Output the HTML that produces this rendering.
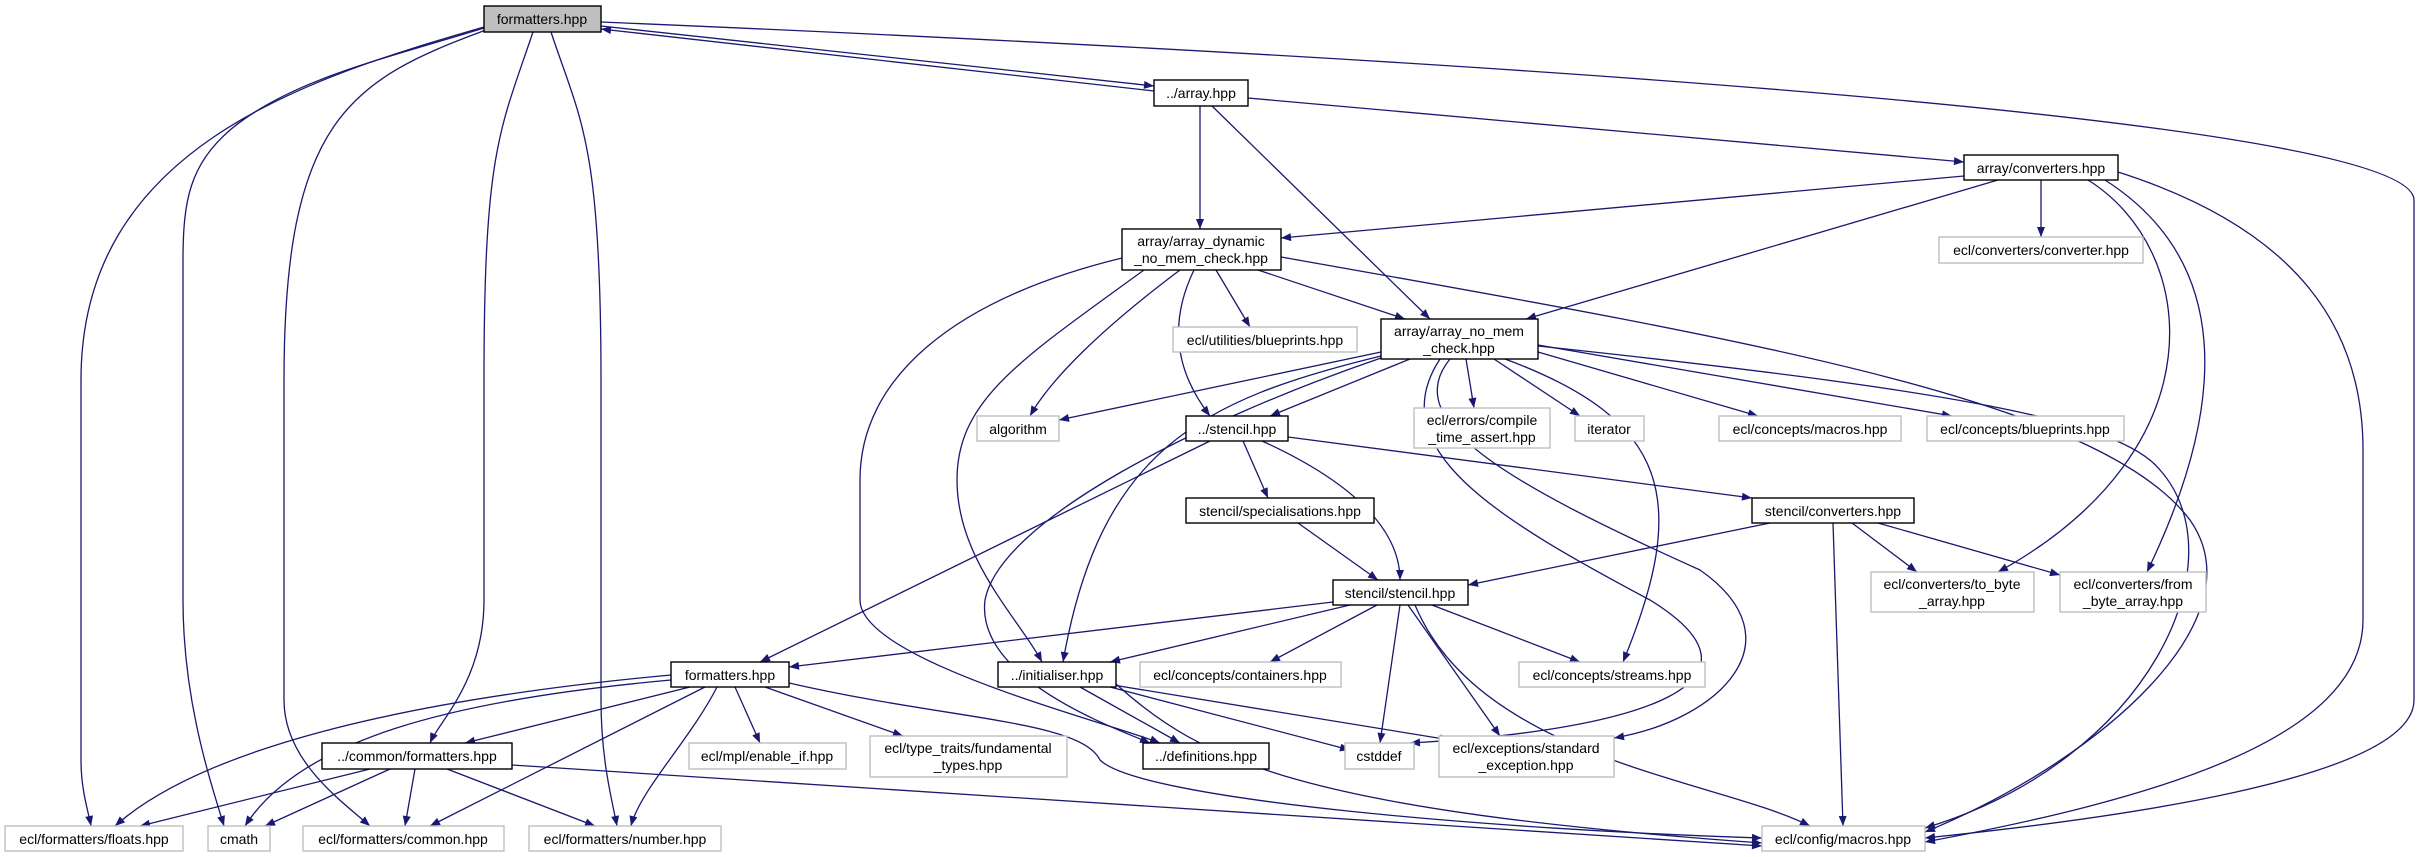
<!DOCTYPE html>
<html><head><meta charset="utf-8"><style>
html,body{margin:0;padding:0;background:#fff;}
svg{display:block;}
text{font-family:"Liberation Sans","DejaVu Sans",sans-serif;font-size:14px;fill:#000;text-anchor:middle;}
.e{fill:none;stroke:#191970;stroke-width:1.3;marker-end:url(#ah);}
.nb{fill:#fff;stroke:#000;stroke-width:1.4;}
.ng{fill:#fff;stroke:#bfbfbf;stroke-width:1.4;}
</style></head><body>
<svg width="2420" height="857" viewBox="0 0 2420 857" xmlns="http://www.w3.org/2000/svg">
<defs>
<marker id="ah" viewBox="0 0 10 8" refX="10" refY="4" markerWidth="11" markerHeight="8" markerUnits="userSpaceOnUse" orient="auto">
<path d="M0,0 L10,4 L0,8 z" fill="#191970"/></marker>
</defs>
<!-- edges -->
<g>
<path class="e" d="M484,27 C300,80 81,150 81,380 L81,760 C81,790 88,810 91,826"/>
<path class="e" d="M484,28 C380,60 290,80 230,130 C190,165 183,200 183,260 L183,600 C183,700 210,780 224,826"/>
<path class="e" d="M486,30 C350,80 284,120 284,380 L284,700 C284,760 340,800 370,826"/>
<path class="e" d="M551,32 C580,120 601,140 601,380 L601,700 C601,760 612,800 617,826"/>
<path class="e" d="M533,32 C500,130 484,150 484,380 L484,600 C484,680 440,720 430,743"/>
<path class="e" d="M601,22 C1500,60 2414,120 2414,200 L2414,700 C2414,780 2100,820 1925,838"/>
<path class="e" d="M601,26 L1154,86"/>
<path class="e" d="M1154,91 L601,29"/>
<path class="e" d="M1200,106 L1200,229"/>
<path class="e" d="M1212,106 L1430,319"/>
<path class="e" d="M1248,98 L1964,162"/>
<path class="e" d="M1964,176 L1281,238"/>
<path class="e" d="M2041,180 L2041,237"/>
<path class="e" d="M1998,180 L1526,319"/>
<path class="e" d="M2088,180 C2200,250 2220,450 1998,572"/>
<path class="e" d="M2105,180 C2230,260 2230,400 2147,572"/>
<path class="e" d="M2118,172 C2300,230 2363,330 2363,450 L2363,620 C2363,740 2150,800 1925,842"/>
<path class="e" d="M1216,270 L1250,327"/>
<path class="e" d="M1258,270 L1405,319"/>
<path class="e" d="M1180,270 C1100,330 1050,380 1030,416"/>
<path class="e" d="M1194,270 C1160,340 1190,390 1210,416"/>
<path class="e" d="M1144,270 C1020,360 957,400 957,480 C957,560 1020,620 1042,662"/>
<path class="e" d="M1122,258 C950,300 860,380 860,480 L860,600 C860,660 1100,720 1160,743"/>
<path class="e" d="M1281,257 C1750,340 2100,400 2190,520 C2260,620 2100,760 1925,832"/>
<path class="e" d="M1381,352 L1059,420"/>
<path class="e" d="M1410,359 L1270,416"/>
<path class="e" d="M1466,359 L1474,408"/>
<path class="e" d="M1494,359 L1580,416"/>
<path class="e" d="M1538,352 L1758,416"/>
<path class="e" d="M1538,345 L1952,416"/>
<path class="e" d="M1381,356 C1200,400 1100,450 1063,662"/>
<path class="e" d="M1381,358 C1200,420 1000,520 985,600 C975,680 1120,730 1150,743"/>
<path class="e" d="M1505,359 C1670,420 1690,500 1623,662"/>
<path class="e" d="M1440,359 C1380,450 1500,520 1650,600 C1780,680 1650,730 1410,743"/>
<path class="e" d="M1450,359 C1400,420 1500,480 1700,570 C1800,640 1720,720 1614,738"/>
<path class="e" d="M1538,346 C1950,390 2120,420 2160,470 C2240,560 2150,760 1925,828"/>
<path class="e" d="M1210,441 L760,662"/>
<path class="e" d="M1243,441 L1268,498"/>
<path class="e" d="M1262,441 C1370,490 1400,540 1400,580"/>
<path class="e" d="M1288,437 L1752,498"/>
<path class="e" d="M1298,523 L1378,580"/>
<path class="e" d="M1770,523 L1468,585"/>
<path class="e" d="M1852,523 L1917,572"/>
<path class="e" d="M1878,523 L2060,575"/>
<path class="e" d="M1833,523 L1843,826"/>
<path class="e" d="M1333,602 L789,667"/>
<path class="e" d="M1350,605 L1110,662"/>
<path class="e" d="M1377,605 L1270,662"/>
<path class="e" d="M1432,605 L1580,662"/>
<path class="e" d="M1400,605 L1380,743"/>
<path class="e" d="M1408,605 L1500,736"/>
<path class="e" d="M1415,605 C1480,760 1720,780 1810,826"/>
<path class="e" d="M690,687 L465,743"/>
<path class="e" d="M671,675 C400,700 200,750 115,826"/>
<path class="e" d="M671,680 C450,700 300,740 245,826"/>
<path class="e" d="M705,687 L430,826"/>
<path class="e" d="M717,687 C690,740 640,790 631,826"/>
<path class="e" d="M735,687 L760,743"/>
<path class="e" d="M765,687 L903,736"/>
<path class="e" d="M789,683 C950,720 1080,720 1100,760 C1140,800 1500,830 1762,838"/>
<path class="e" d="M370,769 L140,826"/>
<path class="e" d="M390,769 L265,826"/>
<path class="e" d="M415,769 L405,826"/>
<path class="e" d="M447,769 L595,826"/>
<path class="e" d="M512,765 L1762,846"/>
<path class="e" d="M1080,687 L1180,743"/>
<path class="e" d="M1110,687 L1350,750"/>
<path class="e" d="M1113,685 L1450,740"/>
<path class="e" d="M1116,684 C1200,760 1300,810 1762,843"/>
</g>
<!-- nodes -->
<g>
<rect x="484" y="6" width="117" height="26" fill="#bfbfbf" stroke="#000" stroke-width="1.4"/><text x="542" y="24">formatters.hpp</text>
<rect class="nb" x="1154" y="80" width="94" height="26"/><text x="1201" y="98">../array.hpp</text>
<rect class="nb" x="1964" y="155" width="154" height="25"/><text x="2041" y="173">array/converters.hpp</text>
<rect class="nb" x="1122" y="229" width="159" height="41"/><text x="1201" y="246">array/array_dynamic</text><text x="1201" y="263">_no_mem_check.hpp</text>
<rect class="ng" x="1939" y="237" width="204" height="26"/><text x="2041" y="255">ecl/converters/converter.hpp</text>
<rect class="ng" x="1173" y="327" width="184" height="25"/><text x="1265" y="345">ecl/utilities/blueprints.hpp</text>
<rect class="nb" x="1381" y="319" width="157" height="40"/><text x="1459" y="336">array/array_no_mem</text><text x="1459" y="353">_check.hpp</text>
<rect class="ng" x="977" y="416" width="82" height="25"/><text x="1018" y="434">algorithm</text>
<rect class="nb" x="1186" y="416" width="102" height="25"/><text x="1237" y="434">../stencil.hpp</text>
<rect class="ng" x="1414" y="408" width="136" height="40"/><text x="1482" y="425">ecl/errors/compile</text><text x="1482" y="442">_time_assert.hpp</text>
<rect class="ng" x="1575" y="416" width="69" height="25"/><text x="1609" y="434">iterator</text>
<rect class="ng" x="1719" y="416" width="182" height="25"/><text x="1810" y="434">ecl/concepts/macros.hpp</text>
<rect class="ng" x="1927" y="416" width="197" height="25"/><text x="2025" y="434">ecl/concepts/blueprints.hpp</text>
<rect class="nb" x="1186" y="498" width="188" height="25"/><text x="1280" y="516">stencil/specialisations.hpp</text>
<rect class="nb" x="1752" y="498" width="162" height="25"/><text x="1833" y="516">stencil/converters.hpp</text>
<rect class="nb" x="1333" y="580" width="135" height="25"/><text x="1400" y="598">stencil/stencil.hpp</text>
<rect class="ng" x="1871" y="572" width="163" height="40"/><text x="1952" y="589">ecl/converters/to_byte</text><text x="1952" y="606">_array.hpp</text>
<rect class="ng" x="2060" y="572" width="146" height="40"/><text x="2133" y="589">ecl/converters/from</text><text x="2133" y="606">_byte_array.hpp</text>
<rect class="nb" x="671" y="662" width="118" height="25"/><text x="730" y="680">formatters.hpp</text>
<rect class="nb" x="998" y="662" width="118" height="25"/><text x="1057" y="680">../initialiser.hpp</text>
<rect class="ng" x="1140" y="662" width="201" height="25"/><text x="1240" y="680">ecl/concepts/containers.hpp</text>
<rect class="ng" x="1519" y="662" width="186" height="25"/><text x="1612" y="680">ecl/concepts/streams.hpp</text>
<rect class="nb" x="322" y="743" width="190" height="26"/><text x="417" y="761">../common/formatters.hpp</text>
<rect class="ng" x="689" y="743" width="157" height="26"/><text x="767" y="761">ecl/mpl/enable_if.hpp</text>
<rect class="ng" x="870" y="736" width="197" height="41"/><text x="968" y="753">ecl/type_traits/fundamental</text><text x="968" y="770">_types.hpp</text>
<rect class="nb" x="1143" y="743" width="126" height="26"/><text x="1206" y="761">../definitions.hpp</text>
<rect class="ng" x="1345" y="743" width="69" height="26"/><text x="1379" y="761">cstddef</text>
<rect class="ng" x="1439" y="736" width="175" height="41"/><text x="1526" y="753">ecl/exceptions/standard</text><text x="1526" y="770">_exception.hpp</text>
<rect class="ng" x="5" y="826" width="178" height="25"/><text x="94" y="844">ecl/formatters/floats.hpp</text>
<rect class="ng" x="208" y="826" width="62" height="25"/><text x="239" y="844">cmath</text>
<rect class="ng" x="303" y="826" width="201" height="25"/><text x="403" y="844">ecl/formatters/common.hpp</text>
<rect class="ng" x="529" y="826" width="192" height="25"/><text x="625" y="844">ecl/formatters/number.hpp</text>
<rect class="ng" x="1762" y="826" width="163" height="25"/><text x="1843" y="844">ecl/config/macros.hpp</text>
</g>
</svg>
</body></html>
